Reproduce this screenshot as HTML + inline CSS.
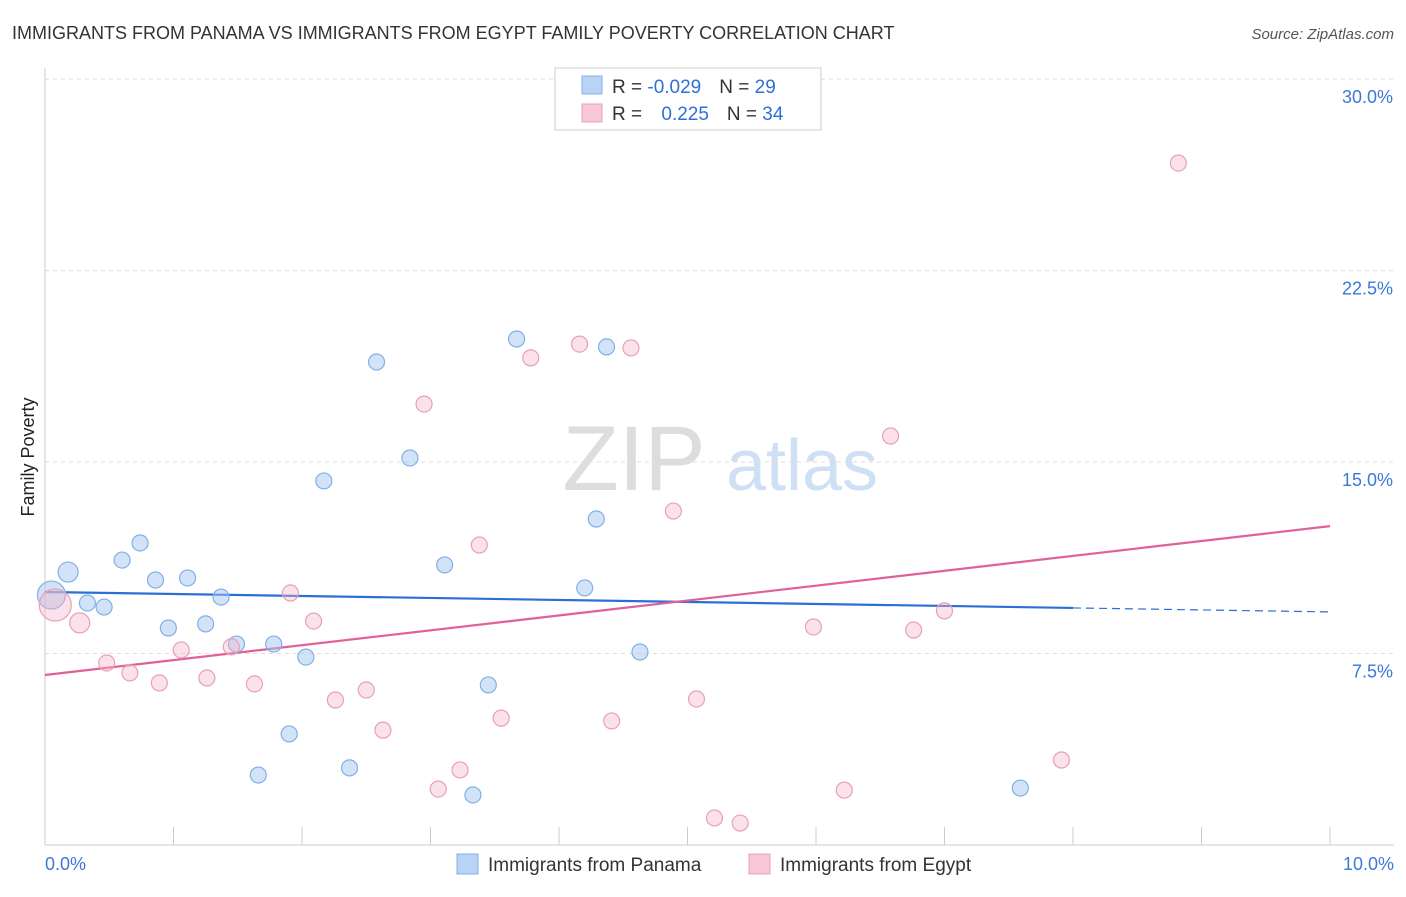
<!DOCTYPE html>
<html><head><meta charset="utf-8"><style>
body{margin:0;background:#fff;font-family:"Liberation Sans",sans-serif;}
svg text{font-family:"Liberation Sans",sans-serif;}
</style></head><body>
<svg id="chart" width="1406" height="892">
<text x="12" y="39" font-size="18" fill="#333">IMMIGRANTS FROM PANAMA VS IMMIGRANTS FROM EGYPT FAMILY POVERTY CORRELATION CHART</text>
<text x="1394" y="39" font-size="15" fill="#555" font-style="italic" text-anchor="end">Source: ZipAtlas.com</text>
<text x="34" y="457" font-size="18" fill="#222" text-anchor="middle" transform="rotate(-90 34 457)">Family Poverty</text>
<g>
<text x="634" y="490" font-size="92" fill="#ddd" text-anchor="middle" font-family="Liberation Serif">ZIP</text>
<text x="802" y="490" font-size="72" fill="#cfe0f5" text-anchor="middle">atlas</text>
</g>
<g id="grid"></g><g id="axes"></g><g id="trends"></g><g id="points"></g>
<g>
<rect x="555" y="68" width="266" height="62" fill="#fff" stroke="#ccc"/>
<rect x="582" y="76" width="20" height="18" fill="#b8d4f5" stroke="#7fb0e8"/>
<rect x="582" y="104" width="20" height="18" fill="#f9c8d6" stroke="#e8a0b8"/>
<text x="612" y="93" font-size="19" fill="#333">R = <tspan fill="#2f6fd6">-0.029</tspan><tspan dx="18">N = </tspan><tspan fill="#2f6fd6">29</tspan></text>
<text x="612" y="120" font-size="19" fill="#333">R = <tspan dx="14" fill="#2f6fd6">0.225</tspan><tspan dx="18">N = </tspan><tspan fill="#2f6fd6">34</tspan></text>
</g>
<g>
<rect x="457" y="854" width="21" height="20" fill="#b8d4f5" stroke="#7fb0e8"/>
<text x="488" y="871" font-size="19" fill="#333">Immigrants from Panama</text>
<rect x="749" y="854" width="21" height="20" fill="#f9c8d6" stroke="#e8a0b8"/>
<text x="780" y="871" font-size="19" fill="#333">Immigrants from Egypt</text>
</g>
</svg>
<script>
const yTicks=[7.5,15,22.5,30];
const yTickLabels=["7.5%","15.0%","22.5%","30.0%"];
const xTicks=[0,1,2,3,4,5,6,7,8,9,10];
const panamaX=[0.05,0.18,0.33,0.46,0.60,0.74,0.86,0.96,1.11,1.25,1.37,1.49,1.66,1.78,1.90,2.03,2.17,2.37,2.58,2.84,3.11,3.33,3.45,3.67,4.20,4.29,4.37,4.63,7.59];
const panamaY=[9.79,10.69,9.48,9.32,11.16,11.83,10.38,8.50,10.46,8.66,9.71,7.87,2.74,7.87,4.35,7.36,14.26,3.02,18.92,15.16,10.97,1.96,6.27,19.82,10.07,12.77,19.51,7.56,2.23];
const panamaSize=[14,10,8,8,8,8,8,8,8,8,8,8,8,8,8,8,8,8,8,8,8,8,8,8,8,8,8,8,8];
const egyptX=[0.08,0.27,0.48,0.66,0.89,1.06,1.26,1.45,1.63,1.91,2.09,2.26,2.50,2.63,2.95,3.06,3.23,3.38,3.55,3.78,4.16,4.41,4.56,4.89,5.07,5.21,5.41,5.98,6.22,6.58,6.76,7.00,7.91,8.82];
const egyptY=[9.40,8.70,7.13,6.74,6.35,7.64,6.54,7.76,6.31,9.87,8.77,5.68,6.07,4.50,17.27,2.19,2.94,11.75,4.97,19.08,19.62,4.86,19.47,13.08,5.72,1.06,0.86,8.54,2.15,16.02,8.42,9.17,3.33,26.71];
const egyptSize=[16,10,8,8,8,8,8,8,8,8,8,8,8,8,8,8,8,8,8,8,8,8,8,8,8,8,8,8,8,8,8,8,8,8];
const panamaTrend=[9.91,9.13];
const egyptTrend=[6.66,12.49];
const panamaSolidEnd=8;

const NS="http://www.w3.org/2000/svg";
const X0=45,X1=1330,Y0=845,PXY=25.53;
const sx=v=>X0+(X1-X0)*v/10, sy=v=>Y0-v*PXY;
function mk(tag,attrs,parent){const e=document.createElementNS(NS,tag);for(const k in attrs)e.setAttribute(k,attrs[k]);document.getElementById(parent).appendChild(e);return e;}
yTicks.forEach((t,i)=>{
 const g=mk('line',{x1:X0,x2:1394,y1:sy(t),y2:sy(t),stroke:'#ddd','stroke-dasharray':'4,4'},'grid');
 
 
 const l=mk('text',{x:1393,y:sy(t)+24,'font-size':18,fill:'#3b78d8','text-anchor':'end'},'grid');
 l.textContent=yTickLabels[i];
 
 
});
const ax=mk('line',{x1:X0,x2:X0,y1:68,y2:Y0,stroke:'#ccc'},'axes');


const bx=mk('line',{x1:X0,x2:1394,y1:Y0,y2:Y0,stroke:'#ccc'},'axes');


xTicks.forEach(t=>{
 const k=mk('line',{x1:sx(t),x2:sx(t),y1:Y0-18,y2:Y0,stroke:'#ccc'},'axes');
 
 
});
[[0,"0.0%",'start',X0],[10,"10.0%",'end',1394]].forEach(a=>{
 const l=mk('text',{x:a[3],y:870,'font-size':18,fill:'#3b78d8','text-anchor':a[2]},'axes');
 l.textContent=a[1];
 
 
});
const pAt=x=>panamaTrend[0]+(panamaTrend[1]-panamaTrend[0])*x/10;
const t1=mk('line',{x1:sx(0),y1:sy(pAt(0)),x2:sx(panamaSolidEnd),y2:sy(pAt(panamaSolidEnd)),stroke:'#2a6fd6','stroke-width':2.2},'trends');


const t2=mk('line',{x1:sx(panamaSolidEnd),y1:sy(pAt(panamaSolidEnd)),x2:sx(10),y2:sy(pAt(10)),stroke:'#2a6fd6','stroke-width':1.2,'stroke-dasharray':'8,5'},'trends');


const t3=mk('line',{x1:sx(0),y1:sy(egyptTrend[0]),x2:sx(10),y2:sy(egyptTrend[1]),stroke:'#e0609a','stroke-width':2.2},'trends');


panamaX.forEach((x,i)=>{
 const c=mk('circle',{cx:sx(x),cy:sy(panamaY[i]),r:panamaSize[i],fill:'rgba(165,200,240,0.5)',stroke:'#7fb0e8','stroke-width':1.2},'points');
 
 
});
egyptX.forEach((x,i)=>{
 const c=mk('circle',{cx:sx(x),cy:sy(egyptY[i]),r:egyptSize[i],fill:'rgba(245,180,200,0.4)',stroke:'#e8a0b8','stroke-width':1.2},'points');
 
 
});
</script>
</body></html>
